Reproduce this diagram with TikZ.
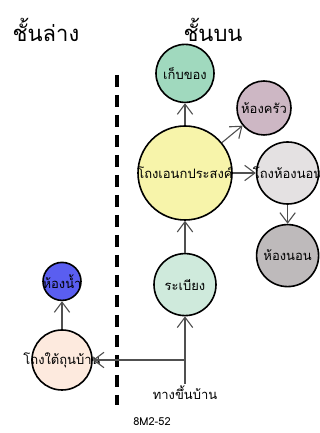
\documentclass[tikz,border=0pt]{standalone}
\usepackage{fontspec}
\newfontfamily\thaifont[Script=Thai]{Loma}
\usepackage{tikz}
\usetikzlibrary{arrows.meta,positioning}
\definecolor{StoreGreen}{RGB}{160,217,190}
\definecolor{KitchenMauve}{RGB}{205,183,196}
\definecolor{HallYellow}{RGB}{247,244,170}
\definecolor{BedHallGray}{RGB}{228,225,226}
\definecolor{BedGray}{RGB}{190,186,187}
\definecolor{PorchGreen}{RGB}{207,234,220}
\definecolor{BathBlue}{RGB}{90,94,240}
\definecolor{UnderPeach}{RGB}{253,234,222}
\definecolor{LinkGray}{RGB}{80,80,80}
% room names may run over the circle
\newcommand{\roomname}[1]{\makebox[0pt]{#1}}

\begin{document}
\begin{tikzpicture}[x=1pt,y=1pt,
room/.style={circle,draw=black,line width=1.6pt,inner sep=0pt,text=black,font=\thaifont\fontsize{13}{15}\selectfont},
arr/.style={-{Straight Barb[length=3.6mm,width=5.4mm]},draw=LinkGray,line width=1.1pt},
title/.style={font=\thaifont\fontsize{22}{26}\selectfont}
]
\fill[white] (0,0) rectangle (320,433);
\useasboundingbox (0,0) rectangle (320,433);
% titles
\node[title] (lower) at (46,403) {ชั้นล่าง};
\node[title] (upper) at (213,403) {ชั้นบน};
% divider
\draw[line width=3.5pt,dash pattern=on 12pt off 8pt] (117,358) -- (117,28);
% upper floor
\node[room,fill=HallYellow,minimum size=94pt] (hall) at (185,260) {\roomname{โถงเอนกประสงค์}};
\node[room,fill=StoreGreen,minimum size=58pt,above=22pt of hall] (store) {\roomname{เก็บของ}};
\node[room,fill=KitchenMauve,minimum size=54pt] (kitchen) at (264,325) {\roomname{ห้องครัว}};
\node[room,fill=BedHallGray,minimum size=62pt,right=23pt of hall] (bedhall) {\roomname{โถงห้องนอน}};
\node[room,fill=BedGray,minimum size=62pt,below=19pt of bedhall] (bed) {\roomname{ห้องนอน}};
\node[room,fill=PorchGreen,minimum size=62pt,below=32pt of hall] (porch) {\roomname{ระเบียง}};
% lower floor
\node[room,fill=UnderPeach,minimum size=60pt] (under) at (62,73) {\roomname{โถงใต้ถุนบ้าน}};
\node[room,fill=BathBlue,minimum size=38pt,above=28pt of under] (bath) {\roomname{ห้องน้ำ}};
% entrance
\node[font=\thaifont\fontsize{13}{15}\selectfont,inner sep=2pt] (stair) at (185,40) {ทางขึ้นบ้าน};
\coordinate (jn) at (porch |- under);
\node[font=\thaifont\fontsize{11}{13}\selectfont,inner sep=1pt] (code) at (152,11) {8M2-52};
% links
\draw[arr] (stair.north) -- (porch);
\draw[arr] (jn) -- (under);
\draw[arr] (porch) -- (hall);
\draw[arr] (hall) -- (store);
\draw[arr] (hall) -- (kitchen);
\draw[arr] (hall) -- (bedhall);
\draw[arr] (bedhall) -- (bed);
\draw[arr] (under) -- (bath);
\end{tikzpicture}
\end{document}
